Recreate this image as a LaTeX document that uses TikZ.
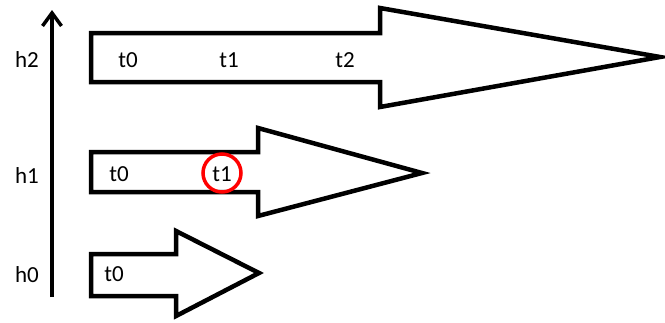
\documentclass[tikz,border=0pt]{standalone}
\usepackage{fontspec}
\setmainfont{Carlito}
\usetikzlibrary{arrows.meta}
\begin{document}
\begin{tikzpicture}[x=1pt,y=-1pt,
  arrowshape/.style={draw=black,line width=4.5pt,line join=miter,fill=white},
  lbl/.style={font=\fontsize{23}{26}\selectfont,inner sep=0pt,anchor=center},
  axis/.style={line width=3.5pt,-{Straight Barb[length=13pt,width=19pt,line width=3.5pt]}},
  redring/.style={draw=red,line width=3.5pt}]
\useasboundingbox (0,0) rectangle (665,322);
% h2 arrow
\draw[arrowshape] (91,33) -- (380,33) -- (380,8) -- (660,57) -- (380,107) -- (380,82) -- (91,82) -- cycle;
% h1 arrow
\draw[arrowshape] (91,152) -- (258,152) -- (258,128) -- (422,173) -- (258,216) -- (258,192) -- (91,192) -- cycle;
% h0 arrow
\draw[arrowshape] (91,254) -- (176,254) -- (176,231) -- (259,273) -- (176,316) -- (176,296) -- (91,296) -- cycle;
% axis
\coordinate (axb) at (52,297);
\coordinate (axt) at (52,10);
\draw[axis] (axb) -- (axt);
% labels
\node[lbl] (h2) at (27,60) {h2};
\node[lbl] (h1) at (27,176) {h1};
\node[lbl] (h0) at (27,275) {h0};
\node[lbl] (a2t0) at (128,60) {t0};
\node[lbl] (a2t1) at (229,60) {t1};
\node[lbl] (a2t2) at (345,60) {t2};
\node[lbl] (a1t0) at (119,174) {t0};
\node[lbl] (a1t1) at (222,174) {t1};
\node[lbl] (a0t0) at (114,274) {t0};
\node[redring,circle,minimum size=38pt,inner sep=0pt] (ring) at (222,173) {};
\end{tikzpicture}
\end{document}
